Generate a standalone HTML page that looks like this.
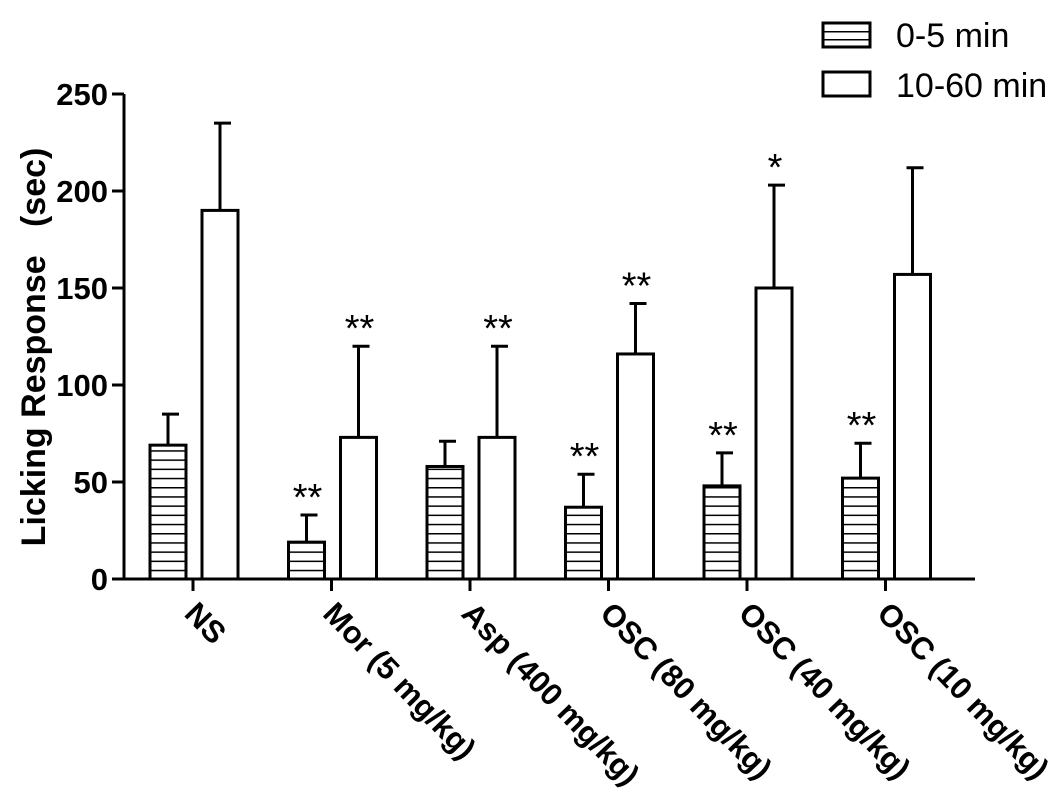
<!DOCTYPE html>
<html><head><meta charset="utf-8"><style>
body{margin:0;background:#fff}
svg text{font-family:"Liberation Sans",Arial,sans-serif}
</style></head><body>
<svg id="chart" width="1063" height="801" viewBox="0 0 1063 801" xmlns="http://www.w3.org/2000/svg">
<defs>
<pattern id="hatch" patternUnits="userSpaceOnUse" width="10" height="9.2" y="579">
<rect width="10" height="9.2" fill="#fff"/>
<line x1="0" y1="0.5" x2="10" y2="0.5" stroke="#000" stroke-width="2"/>
</pattern>
<pattern id="hatchL" patternUnits="userSpaceOnUse" width="10" height="8" y="23">
<rect width="10" height="8" fill="#fff"/>
<line x1="0" y1="0.5" x2="10" y2="0.5" stroke="#000" stroke-width="2"/>
</pattern>
</defs>
<g id="plot"></g>
</svg>
<script>
const categories=["NS","Mor (5 mg/kg)","Asp (400 mg/kg)","OSC (80 mg/kg)","OSC (40 mg/kg)","OSC (10 mg/kg)"];
const early=[69,19,58,37,48,52];
const earlyErr=[85,33,71,54,65,70];
const late=[190,73,73,116,150,157];
const lateErr=[235,120,120,142,203,212];
const earlySig=["","**","","**","**","**"];
const lateSig=["","**","**","**","*",""];
const yTicks=[0,50,100,150,200,250];

const NS="http://www.w3.org/2000/svg";
const g=document.getElementById('plot');
const y0=579,yTop=94,yMax=250;
function Y(v){return y0-(v/yMax)*(y0-yTop);}
function gx(i){return 193+i*138.5;}
function mk(tag,attrs,txt){const e=document.createElementNS(NS,tag);for(const k in attrs)e.setAttribute(k,attrs[k]);if(txt!==undefined)e.textContent=txt;g.appendChild(e);return e;}

let e=mk('line',{x1:124,y1:Y(yMax),x2:124,y2:y0+1,stroke:'#000','stroke-width':3});


e=mk('line',{x1:123,y1:y0,x2:975,y2:y0,stroke:'#000','stroke-width':3});


yTicks.forEach(t=>{
  let l=mk('line',{x1:112,y1:Y(t),x2:124,y2:Y(t),stroke:'#000','stroke-width':3});
  
  
  let tx=mk('text',{x:108,y:Y(t)+11,'text-anchor':'end','font-size':31,'font-weight':'bold'},String(t));
  
  
});
e=mk('text',{transform:'translate(45,347) rotate(-90)','text-anchor':'middle','font-size':34,'font-weight':'bold'},'Licking Response\u00a0\u00a0\u00a0(sec)');



const bw=36;
categories.forEach((c,i)=>{
  const cx=gx(i);
  let t=mk('line',{x1:cx,y1:y0,x2:cx,y2:y0+12,stroke:'#000','stroke-width':3});
  
  
  let lb=mk('text',{transform:`translate(${cx-10},${y0+36}) rotate(46)`,'font-size':31,'font-weight':'bold'},c);
  
  
  [[early,earlyErr,earlySig,cx-43,'url(#hatch)','bar-early'],[late,lateErr,lateSig,cx+9,'#fff','bar-late']].forEach(([vals,errs,sig,x,fill,name])=>{
    const xc=x+bw/2;
    let er=mk('line',{x1:xc,y1:Y(vals[i]),x2:xc,y2:Y(errs[i]),stroke:'#000','stroke-width':3});
    
    
    let cap=mk('line',{x1:xc-6,y1:Y(errs[i]),x2:xc+11,y2:Y(errs[i]),stroke:'#000','stroke-width':3});
    
    
    let r=mk('rect',{x:x,y:Y(vals[i]),width:bw,height:y0-Y(vals[i]),fill:fill,stroke:'#000','stroke-width':3});
    
    
    if(sig[i]){
      let s=mk('text',{x:xc+1,y:Y(errs[i])-5,'text-anchor':'middle','font-size':38},sig[i]);
      
      
    }
  });
});

e=mk('rect',{x:823,y:23,width:47,height:24,fill:'url(#hatchL)',stroke:'#000','stroke-width':3});


e=mk('text',{x:896,y:47,'font-size':34},'0-5 min');


e=mk('rect',{x:823,y:72,width:47,height:24,fill:'#fff',stroke:'#000','stroke-width':3});


e=mk('text',{x:896,y:97,'font-size':34},'10-60 min');


</script>
</body></html>
